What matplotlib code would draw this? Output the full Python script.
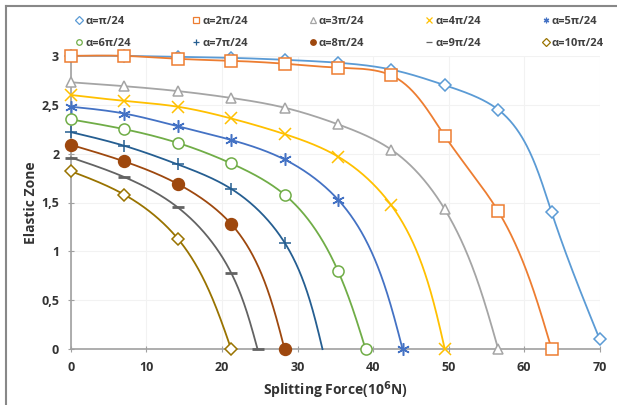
import numpy as np
import matplotlib.pyplot as plt
from matplotlib.lines import Line2D

plt.rcParams['font.family'] = ['Open Sans', 'DejaVu Sans']

# wartosci
step = [0, 7.07, 14.14, 21.21, 28.28, 35.35, 42.42, 49.49, 56.56, 63.63, 70.0]

x1 = step
y1 = [3.0, 3.0, 2.99, 2.98, 2.96, 2.93, 2.86, 2.70, 2.45, 1.40, 0.10]
x2 = step[:10]
y2 = [3.0, 3.0, 2.97, 2.95, 2.92, 2.88, 2.80, 2.18, 1.41, 0.0]
x3 = step[:9]
y3 = [2.73, 2.69, 2.64, 2.57, 2.47, 2.30, 2.04, 1.43, 0.0]
x4 = step[:8]
y4 = [2.60, 2.54, 2.48, 2.36, 2.20, 1.97, 1.47, 0.0]
x5 = step[:6] + [43.9]
y5 = [2.48, 2.41, 2.28, 2.14, 1.94, 1.53, 0.0]
x6 = step[:6] + [39.0]
y6 = [2.35, 2.25, 2.11, 1.90, 1.58, 0.80, 0.0]
x7 = step[:5] + [33.3]
y7 = [2.22, 2.08, 1.89, 1.64, 1.09, 0.0]
x8 = step[:5]
y8 = [2.09, 1.92, 1.69, 1.28, 0.0]
x9 = step[:4] + [24.7]
y9 = [1.96, 1.76, 1.45, 0.78, 0.0]
x10 = step[:4]
y10 = [1.82, 1.58, 1.13, 0.0]

labels = ["α=π/24", "α=2π/24", "α=3π/24", "α=4π/24", "α=5π/24",
          "α=6π/24", "α=7π/24", "α=8π/24", "α=9π/24", "α=10π/24"]
colors = ["#5B9BD5", "#ED7D31", "#A5A5A5", "#FFC000", "#4472C4",
          "#70AD47", "#255E91", "#9E480E", "#636363", "#997300"]
markers = ["D", "s", "^", "x", (6, 2, 0), "o", "+", "o", "_", "D"]
sizes = [6.5, 8, 7.5, 8, 9, 8, 8, 8.5, 8, 6.5]
filled = [False, False, False, True, True, False, True, True, True, False]
last_marker = [True, True, True, True, True, True, False, True, True, True]

SX, SY = 7.56, 97.7  # piksele na jednostke, do wygladzania


def spline1d(t, v, tt):
    # naturalny spline szescienny
    n = len(t)
    h = np.diff(t)
    A = np.zeros((n, n))
    r = np.zeros(n)
    A[0, 0] = A[-1, -1] = 1
    for i in range(1, n - 1):
        A[i, i - 1] = h[i - 1]
        A[i, i] = 2 * (h[i - 1] + h[i])
        A[i, i + 1] = h[i]
        r[i] = 3 * ((v[i + 1] - v[i]) / h[i] - (v[i] - v[i - 1]) / h[i - 1])
    c = np.linalg.solve(A, r)
    b = (v[1:] - v[:-1]) / h - h * (2 * c[:-1] + c[1:]) / 3
    d = (c[1:] - c[:-1]) / (3 * h)
    idx = np.clip(np.searchsorted(t, tt, side="right") - 1, 0, n - 2)
    dt = tt - t[idx]
    return v[idx] + b[idx] * dt + c[idx] * dt ** 2 + d[idx] * dt ** 3


def gladka(x, y, n=400):
    px = np.array(x, float) * SX
    py = np.array(y, float) * SY
    t = np.concatenate([[0], np.cumsum(np.hypot(np.diff(px), np.diff(py)))])
    tt = np.linspace(0, t[-1], n)
    return spline1d(t, px, tt) / SX, spline1d(t, py, tt) / SY


fig = plt.figure(figsize=(6.17, 4.05), dpi=100)
ax = fig.add_axes([0.115, 0.138, 0.857, 0.724])

serie = [(x1, y1), (x2, y2), (x3, y3), (x4, y4), (x5, y5),
         (x6, y6), (x7, y7), (x8, y8), (x9, y9), (x10, y10)]
uchwyty = []
for i, (xs, ys) in enumerate(serie):
    c = colors[i]
    sx, sy = gladka(xs, ys)
    ax.plot(sx, sy, color=c, lw=1.3, clip_on=False, zorder=3)
    mx, my = (xs, ys) if last_marker[i] else (xs[:-1], ys[:-1])
    fc = c if filled[i] else "white"
    mew = 2.0 if markers[i] == "_" else 1.1
    ax.plot(mx, my, ls="none", marker=markers[i], ms=sizes[i], mfc=fc, mec=c,
            mew=mew, clip_on=False, zorder=4)
    uchwyty.append(Line2D([], [], ls="none", marker=markers[i], ms=4, mfc=fc,
                          mec=c, mew=0.9))

order = [0, 5, 1, 6, 2, 7, 3, 8, 4, 9]
leg = fig.legend([uchwyty[k] for k in order], [labels[k] for k in order],
                 ncol=5, loc="upper left", bbox_to_anchor=(0.108, 0.985),
                 frameon=False, fontsize=8, handlelength=0.5, handletextpad=0.3,
                 columnspacing=5.6, labelspacing=0.95)
for t in leg.get_texts():
    t.set_fontweight("bold")
    t.set_color("#404040")

ax.set_xlim(0, 70)
ax.set_ylim(0, 3)
ax.set_xticks(range(0, 71, 10))
ax.set_yticks([0, 0.5, 1, 1.5, 2, 2.5, 3])
ax.set_yticklabels(["0", "0,5", "1", "1,5", "2", "2,5", "3"])
ax.grid(True, color="#f2f2f2", lw=0.8)
ax.set_axisbelow(True)
for s in ["top", "right"]:
    ax.spines[s].set_visible(False)
for s in ["left", "bottom"]:
    ax.spines[s].set_color("#a0a0a0")
    ax.spines[s].set_linewidth(1.2)
ax.tick_params(axis="both", direction="inout", length=5, color="#a0a0a0",
               labelsize=9, labelcolor="#333333", pad=6)
for t in ax.get_xticklabels() + ax.get_yticklabels():
    t.set_fontweight("bold")

ax.set_xlabel(r"Splitting Force(10$^{\mathbf{6}}$N)", fontsize=10, fontweight="bold",
              color="#333333", labelpad=4)
ax.set_ylabel("Elastic Zone", fontsize=10, fontweight="bold", color="#333333",
              labelpad=2)

# ramka obrazka (lewa i gorna krawedz)
fig.add_artist(Line2D([0.01, 0.01], [0.0, 0.985], color="#888888", lw=1.5))
fig.add_artist(Line2D([0.01, 1.0], [0.985, 0.985], color="#888888", lw=1.5))

fig.savefig("out.png", dpi=100)
